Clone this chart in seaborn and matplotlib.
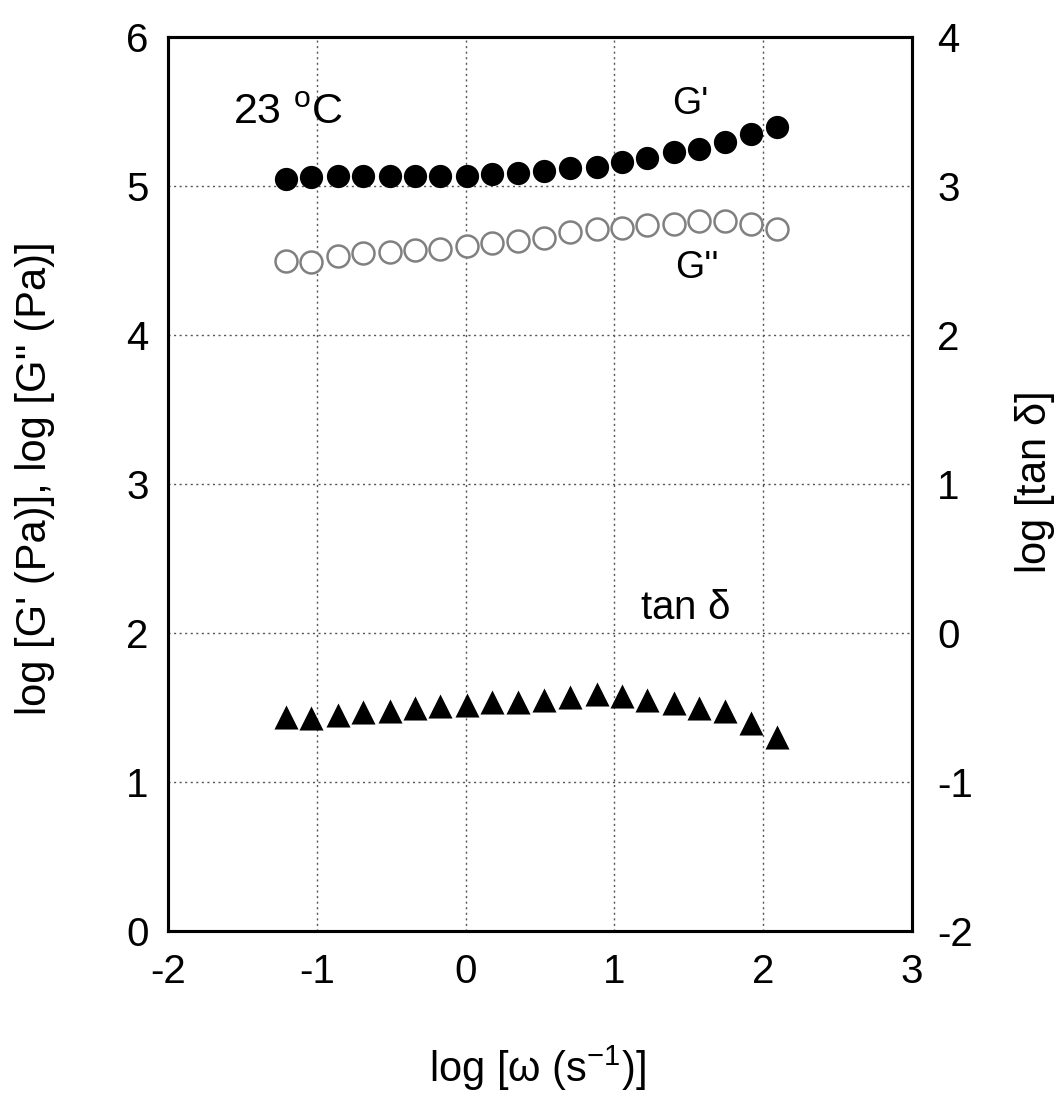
import numpy as np
import pandas as pd
import matplotlib
matplotlib.use("Agg")
import matplotlib.pyplot as plt
import seaborn as sns

sns.set_theme(style="white")
plt.rcParams['font.family'] = ['Liberation Sans', 'DejaVu Sans']
plt.rcParams['axes.unicode_minus'] = False
plt.rcParams['mathtext.fontset'] = 'custom'
plt.rcParams['mathtext.rm'] = 'Liberation Sans'
plt.rcParams['mathtext.it'] = 'Liberation Sans'
for k in ['text.color', 'axes.labelcolor', 'xtick.color', 'ytick.color']:
    plt.rcParams[k] = 'black'

# log omega (s^-1)
log_w = [-1.21, -1.04, -0.86, -0.69, -0.51, -0.34, -0.17, 0.01, 0.18, 0.35,
         0.53, 0.70, 0.88, 1.05, 1.22, 1.40, 1.57, 1.74, 1.92, 2.09]
# log G' (Pa)
log_g1 = [5.05, 5.06, 5.07, 5.07, 5.07, 5.07, 5.07, 5.07, 5.08, 5.09,
          5.10, 5.12, 5.13, 5.16, 5.19, 5.23, 5.25, 5.30, 5.35, 5.40]
# log G'' (Pa)
log_g2 = [4.50, 4.49, 4.53, 4.55, 4.56, 4.57, 4.58, 4.60, 4.62, 4.63,
          4.65, 4.69, 4.71, 4.72, 4.74, 4.75, 4.77, 4.77, 4.75, 4.71]
# log tan delta (right axis)
log_tan = [-0.56, -0.57, -0.55, -0.53, -0.52, -0.50, -0.49, -0.48, -0.46, -0.46,
           -0.45, -0.43, -0.41, -0.42, -0.45, -0.47, -0.50, -0.52, -0.60, -0.70]

df = pd.DataFrame({"w": log_w, "g1": log_g1, "g2": log_g2, "tan": log_tan})

fig = plt.figure(figsize=(10.63, 10.98), dpi=100)
ax = fig.add_axes([0.158, 0.152, 0.700, 0.814])

sns.scatterplot(data=df, x="w", y="g1", ax=ax, marker="o", s=280,
                color="black", edgecolor="black", linewidth=0, zorder=3)
sns.scatterplot(data=df, x="w", y="g2", ax=ax, marker="o", s=250,
                facecolor="white", edgecolor="#808080", linewidth=1.8, zorder=3)

ax.set_xlim(-2, 3)
ax.set_ylim(0, 6)
ax.set_xticks(range(-2, 4))
ax.set_yticks(range(0, 7))
ax.grid(True, color="#555555", linestyle=(0, (1.5, 2.5)), linewidth=1.0)
ax.tick_params(axis="both", direction="in", length=0, labelsize=29)
ax.tick_params(axis="x", pad=16)
ax.tick_params(axis="y", pad=14)
ax.set_xlabel("")
ax.set_ylabel("")
for sp in ax.spines.values():
    sp.set_linewidth(2.2)
    sp.set_color("black")

ax2 = ax.twinx()
sns.scatterplot(data=df, x="w", y="tan", ax=ax2, marker="^", s=300,
                color="black", edgecolor="black", linewidth=0, zorder=3)
ax2.set_ylim(-2, 4)
ax2.set_yticks(range(-2, 5))
ax2.tick_params(axis="y", direction="in", length=0, labelsize=29, pad=18)
ax2.set_ylabel("")
ax2.grid(False)
for sp in ax2.spines.values():
    sp.set_linewidth(2.2)
    sp.set_color("black")

# axis titles
fig.text(537 / 1063, 1 - 1068 / 1098, r"log [$\omega$ (s$^{-1}$)]",
         fontsize=30, ha="center", va="center")
fig.text(35 / 1063, 1 - 478 / 1098, "log [G' (Pa)], log [G'' (Pa)]",
         fontsize=30, ha="center", va="center", rotation=90)
fig.text(1035 / 1063, 1 - 483 / 1098, r"log [tan $\delta$]",
         fontsize=30, ha="center", va="center", rotation=90)

# annotations
ax.text(-1.565, 5.49, r"23 $^{\mathrm{o}}$C", fontsize=31, va="center", ha="left")
ax.text(1.39, 5.55, "G'", fontsize=27, va="center", ha="left")
ax.text(1.41, 4.45, "G''", fontsize=27, va="center", ha="left")
ax.text(1.17, 2.17, r"tan $\delta$", fontsize=29, va="center", ha="left")

fig.savefig("out.png", dpi=100)
